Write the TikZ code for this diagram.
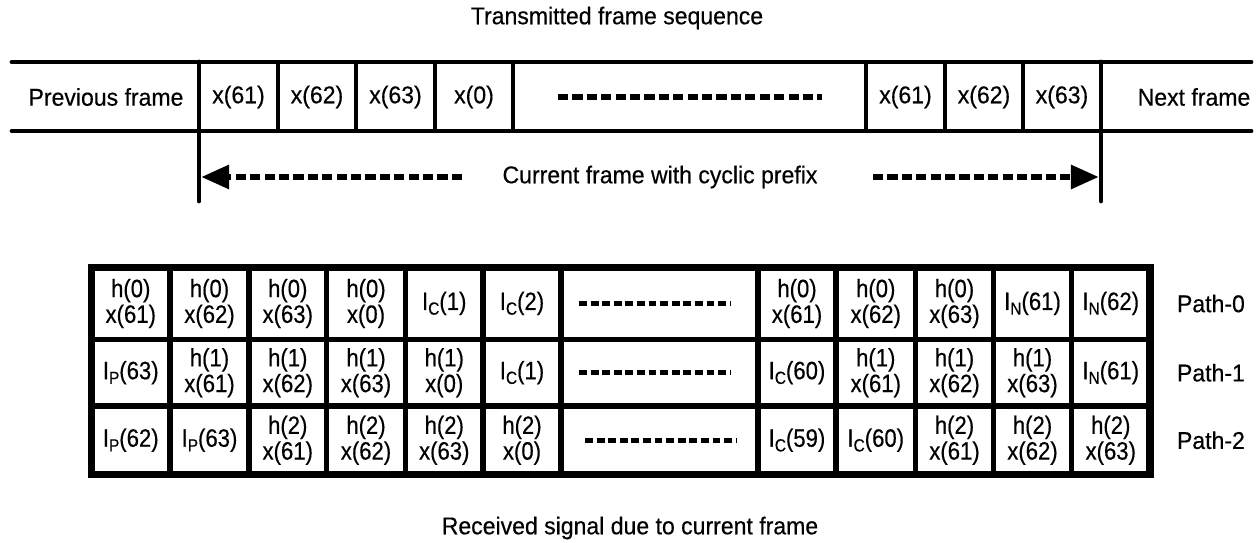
\documentclass[tikz,border=0pt]{standalone}
\usepackage{fontspec}
\setmainfont{Liberation Sans}[FakeStretch=0.95,FakeBold=0.4]
\newfontfamily\cellfont{Liberation Sans}[FakeStretch=0.88,FakeBold=0.4]
\usetikzlibrary{arrows.meta}
\newcommand{\isub}[2]{I\raisebox{-0.35ex}{\fontsize{10}{10}\selectfont #1}(#2)}

\begin{document}
\begin{tikzpicture}[x=0.02cm,y=-0.02cm,
  txt/.style={outer sep=0pt,inner sep=0pt,font=\fontsize{13.8}{14.6}\selectfont},
  cell/.style={txt,align=center,font=\cellfont\fontsize{14.3}{14.6}\selectfont},
  rail/.style={line width=2.8pt,line cap=round},
  divider/.style={line width=2.8pt},
  gridline/.style={line width=3.4pt},
  bigdots/.style={line width=3.6pt,dash pattern=on 5.8pt off 2.4pt},
  celldots/.style={line width=3pt,dash pattern=on 4.5pt off 2.1pt},
  headtip/.style={-{Triangle[length=16pt,width=13pt]}}]

\useasboundingbox (0,0) rectangle (1258,543);

% transmitted frames
\node[txt] (title) at (617,18) {Transmitted frame sequence};

\draw [rail] (12,62) -- (1251,62);
\draw [rail] (12,131) -- (1251,131);

\draw [divider,line cap=round] (199,62) -- (199,201);
\draw [divider] (278,62) -- (278,131);
\draw [divider] (356,62) -- (356,131);
\draw [divider] (435,62) -- (435,131);
\draw [divider] (513,62) -- (513,131);
\draw [divider] (866,62) -- (866,131);
\draw [divider] (945,62) -- (945,131);
\draw [divider] (1023,62) -- (1023,131);
\draw [divider,line cap=round] (1101,62) -- (1101,201);

\node[txt] (prev) at (106,97) {Previous frame};
\node[txt] (tx61) at (238.5,97) {x(61)};
\node[txt] (tx62) at (317,97) {x(62)};
\node[txt] (tx63) at (395.5,97) {x(63)};
\node[txt] (tx0) at (474,97) {x(0)};
\draw [bigdots] (558,97) -- (822,97);
\node[txt] (ty61) at (905.5,97) {x(61)};
\node[txt] (ty62) at (984,97) {x(62)};
\node[txt] (ty63) at (1062,97) {x(63)};
\node[txt] (next) at (1194,97) {Next frame};

% current frame arrow
\node[txt] (cur) at (660,177) {Current frame with cyclic prefix};
\coordinate (lstart) at (462,177);
\coordinate (lend) at (201,177);
\coordinate (rstart) at (873,177);
\coordinate (rend) at (1099,177);
\draw [bigdots,headtip] (lstart) -- (lend);
\draw [bigdots,headtip] (rstart) -- (rend);

% received signal table
\draw [line width=4pt] (91.5,267.5) rectangle (1150,474.5);
\draw [gridline] (91.5,339.5) -- (1150,339.5);
\draw [gridline] (91.5,406) -- (1150,406);
\draw [gridline] (170,267.5) -- (170,474.5);
\draw [gridline] (249,267.5) -- (249,474.5);
\draw [gridline] (326.5,267.5) -- (326.5,474.5);
\draw [gridline] (405.5,267.5) -- (405.5,474.5);
\draw [gridline] (483,267.5) -- (483,474.5);
\draw [gridline] (561,267.5) -- (561,474.5);
\draw [gridline] (758,267.5) -- (758,474.5);
\draw [gridline] (836,267.5) -- (836,474.5);
\draw [gridline] (915.5,267.5) -- (915.5,474.5);
\draw [gridline] (993.5,267.5) -- (993.5,474.5);
\draw [gridline] (1071.5,267.5) -- (1071.5,474.5);

% path 0
\node[cell] (a1) at (130.75,303.5) {h(0)\\x(61)};
\node[cell] (a2) at (209.5,303.5) {h(0)\\x(62)};
\node[cell] (a3) at (287.75,303.5) {h(0)\\x(63)};
\node[cell] (a4) at (366,303.5) {h(0)\\x(0)};
\node[cell] (a5) at (444.25,303.5) {\isub{C}{1}};
\node[cell] (a6) at (522,303.5) {\isub{C}{2}};
\draw [celldots] (579,303.5) -- (730,303.5);
\node[cell] (a8) at (797,303.5) {h(0)\\x(61)};
\node[cell] (a9) at (875.75,303.5) {h(0)\\x(62)};
\node[cell] (a10) at (954.5,303.5) {h(0)\\x(63)};
\node[cell] (a11) at (1032.5,303.5) {\isub{N}{61}};
\node[cell] (a12) at (1110.75,303.5) {\isub{N}{62}};
\node[txt,anchor=west] (path0) at (1177,303.5) {Path-0};

% path 1
\node[cell] (b1) at (130.75,372.75) {\isub{P}{63}};
\node[cell] (b2) at (209.5,372.75) {h(1)\\x(61)};
\node[cell] (b3) at (287.75,372.75) {h(1)\\x(62)};
\node[cell] (b4) at (366,372.75) {h(1)\\x(63)};
\node[cell] (b5) at (444.25,372.75) {h(1)\\x(0)};
\node[cell] (b6) at (522,372.75) {\isub{C}{1}};
\draw [celldots] (579,372.75) -- (730,372.75);
\node[cell] (b8) at (797,372.75) {\isub{C}{60}};
\node[cell] (b9) at (875.75,372.75) {h(1)\\x(61)};
\node[cell] (b10) at (954.5,372.75) {h(1)\\x(62)};
\node[cell] (b11) at (1032.5,372.75) {h(1)\\x(63)};
\node[cell] (b12) at (1110.75,372.75) {\isub{N}{61}};
\node[txt,anchor=west] (path1) at (1177,372.75) {Path-1};

% path 2
\node[cell] (c1) at (130.75,440.25) {\isub{P}{62}};
\node[cell] (c2) at (209.5,440.25) {\isub{P}{63}};
\node[cell] (c3) at (287.75,440.25) {h(2)\\x(61)};
\node[cell] (c4) at (366,440.25) {h(2)\\x(62)};
\node[cell] (c5) at (444.25,440.25) {h(2)\\x(63)};
\node[cell] (c6) at (522,440.25) {h(2)\\x(0)};
\draw [celldots] (585,440.25) -- (736,440.25);
\node[cell] (c8) at (797,440.25) {\isub{C}{59}};
\node[cell] (c9) at (875.75,440.25) {\isub{C}{60}};
\node[cell] (c10) at (954.5,440.25) {h(2)\\x(61)};
\node[cell] (c11) at (1032.5,440.25) {h(2)\\x(62)};
\node[cell] (c12) at (1110.75,440.25) {h(2)\\x(63)};
\node[txt,anchor=west] (path2) at (1177,440.25) {Path-2};

\node[txt] (recv) at (630,528) {Received signal due to current frame};
\end{tikzpicture}
\end{document}
